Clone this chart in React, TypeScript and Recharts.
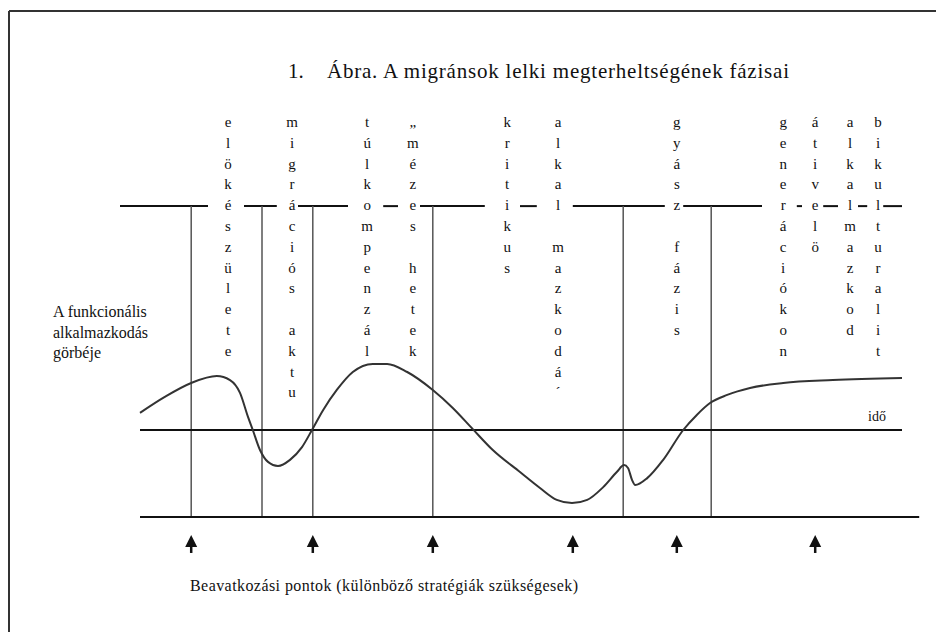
import {
  LineChart,
  Line,
  XAxis,
  YAxis,
  ReferenceLine,
  ReferenceDot,
} from "recharts";

// time position (0-100) and functional adaptation level (0 = the "idő" axis)
const time = [2.5, 5.6, 8.9, 12.1, 13.75, 15, 16, 16.6, 17.5, 18.5, 19.75, 21.25, 22.75, 24, 25.4, 27.1, 29.1, 31.6, 33.4, 35.9, 39.1, 41.6, 44.1, 46.6, 50, 52.5, 54.6, 56.5, 58.4, 60.4, 62.1, 63, 63.5, 64, 64.4, 65.9, 67.9, 70.4, 72.1, 73.75, 75.9, 78.75, 82.9, 89.1, 97.75];
const level = [0.59, 1.14, 1.62, 1.86, 1.72, 1.28, 0.45, 0, -0.69, -1.1, -1.24, -1.03, -0.59, 0, 0.69, 1.38, 2.0, 2.28, 2.28, 2.0, 1.38, 0.76, 0.03, -0.69, -1.45, -2.0, -2.41, -2.52, -2.41, -1.97, -1.45, -1.21, -1.31, -1.72, -1.9, -1.66, -1.03, 0, 0.52, 0.93, 1.21, 1.45, 1.62, 1.72, 1.79];

// phase boundaries and intervention points on the time axis
const boundaries = [8.9, 17.75, 24.1, 39.1, 62.9, 73.9];
const interventions = [8.9, 24.1, 39.1, 56.6, 69.6, 86.9];

// vertical phase names (written letter by letter)
const phaseNames = [
  "elökészülete",
  "migrációs aktu",
  "túlkompenzál",
  "„mézes hetek",
  "kritikus",
  "alkal mazkodá´",
  "gyász fázis",
  "generációkon",
  "átivelö",
  "alkalmazkod",
  "bikulturalit",
];
const phaseX = [13.5, 21.5, 30.9, 36.6, 48.4, 54.75, 69.6, 82.9, 86.9, 91.25, 94.75];

// pieces of the upper phase line, broken where the letters cross it
const upperLine = [
  [0, 11], [15.5, 19.6], [22.25, 28.5], [32.9, 34.75], [37.5, 45.6], [50, 52.1],
  [56.6, 68.1], [70.4, 80.25], [84.6, 85.25], [87.9, 89.75], [92.25, 93.4], [95.4, 97.75],
];

const UPPER_Y = 7.72;
const BASE_Y = -3;
const ARROW_Y = -3.93;
const LABEL_Y = 10.45;

const data = time.map((t, i) => ({ t, level: level[i] }));

const serif = "'Liberation Serif', 'Times New Roman', serif";

function Arrow(props: any) {
  const { cx, cy } = props;
  return (
    <g>
      <path d={`M${cx},${cy - 9} L${cx - 6},${cy + 3} L${cx + 6},${cy + 3} Z`} fill="#111" />
      <line x1={cx} y1={cy} x2={cx} y2={cy + 9} stroke="#111" strokeWidth={2.5} />
    </g>
  );
}

function Column(text: string) {
  return (props: any) => {
    const { cx, cy } = props;
    return (
      <text x={cx} y={cy} textAnchor="middle" fontFamily={serif} fontSize={15} fill="#111">
        {text.split("").map((ch, i) => (
          <tspan key={i} x={cx} y={cy + i * 20.8}>
            {ch === " " ? "" : ch}
          </tspan>
        ))}
      </text>
    );
  };
}

export default function App() {
  return (
    <div style={{ position: "absolute", left: 0, top: 0, width: 936, height: 632, background: "#fff" }}>
      <LineChart width={936} height={632} data={data} margin={{ top: 111, right: 16, bottom: 28, left: 120 }}>
        <XAxis type="number" dataKey="t" domain={[0, 100]} hide allowDataOverflow />
        <YAxis type="number" domain={[-6, 11]} hide allowDataOverflow />

        {upperLine.map(([a, b], i) => (
          <ReferenceLine key={"u" + i} segment={[{ x: a, y: UPPER_Y }, { x: b, y: UPPER_Y }]} stroke="#111" strokeWidth={2} ifOverflow="visible" />
        ))}
        {boundaries.map((x, i) => (
          <ReferenceLine key={"b" + i} segment={[{ x, y: UPPER_Y }, { x, y: BASE_Y }]} stroke="#555" strokeWidth={1.5} ifOverflow="visible" />
        ))}
        <ReferenceLine segment={[{ x: 2.5, y: 0 }, { x: 97.75, y: 0 }]} stroke="#111" strokeWidth={2} ifOverflow="visible" />
        <ReferenceLine segment={[{ x: 2.5, y: BASE_Y }, { x: 99.9, y: BASE_Y }]} stroke="#111" strokeWidth={2} ifOverflow="visible" />

        {phaseNames.map((name, i) => (
          <ReferenceDot key={"p" + i} x={phaseX[i]} y={LABEL_Y} ifOverflow="visible" shape={Column(name)} />
        ))}
        {interventions.map((x, i) => (
          <ReferenceDot key={"a" + i} x={x} y={ARROW_Y} ifOverflow="visible" shape={Arrow} />
        ))}

        <Line type="monotone" dataKey="level" stroke="#333" strokeWidth={2} dot={false} isAnimationActive={false} />
      </LineChart>

      <svg width={936} height={632} style={{ position: "absolute", left: 0, top: 0, pointerEvents: "none" }}>
        <line x1={9} y1={11} x2={936} y2={11} stroke="#333" strokeWidth={2} />
        <line x1={9} y1={11} x2={9} y2={632} stroke="#333" strokeWidth={2} />
        <text fontFamily={serif} fontSize={21} fill="#111" y={78}>
          <tspan x={288}>1.</tspan>
          <tspan x={327} textLength={462} lengthAdjust="spacing">Ábra. A migránsok lelki megterheltségének fázisai</tspan>
        </text>
        <text fontFamily={serif} fontSize={16} fill="#111">
          <tspan x={53} y={317}>A funkcionális</tspan>
          <tspan x={53} y={338}>alkalmazkodás</tspan>
          <tspan x={53} y={358}>görbéje</tspan>
        </text>
        <text x={877} y={421} textAnchor="middle" fontFamily={serif} fontSize={14} fill="#111">idő</text>
        <text x={190} y={591} fontFamily={serif} fontSize={16} fill="#111" textLength={388} lengthAdjust="spacing">
          Beavatkozási pontok (különböző stratégiák szükségesek)
        </text>
      </svg>
    </div>
  );
}
